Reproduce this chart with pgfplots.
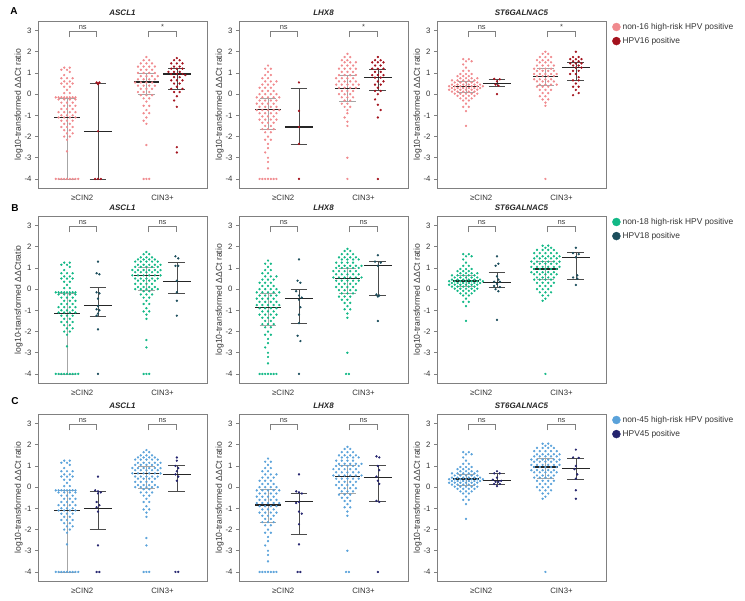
\documentclass[border=0pt]{standalone}
\usepackage{fontspec}
\setmainfont{Liberation Sans}
\usepackage{pgfplots}
\usepackage{pgfplotstable}
\pgfplotsset{compat=1.18}

\definecolor{rA}{HTML}{F08A8E}
\definecolor{rAd}{HTML}{A3111C}
\definecolor{gB}{HTML}{12B886}
\definecolor{gBd}{HTML}{1B4D5C}
\definecolor{bC}{HTML}{5AA2DA}
\definecolor{bCd}{HTML}{24246E}

% light groups (d = horizontal slot in the swarm, y = value)
\pgfplotstableread[row sep=\\]{d y\\
-1 1.25\\ 1 1.25\\ -2 1.15\\ 0 1.15\\ 1 1.05\\ -1 0.9\\
-2 0.75\\ 0 0.75\\ 2 0.75\\ -1 0.6\\ 1 0.6\\ -2 0.5\\ 0 0.5\\ 2 0.5\\
-1 0.35\\ 1 0.35\\ 0 0.2\\ -1 0.05\\ 1 0.05\\
-4 -0.15\\ -3 -0.15\\ -2 -0.15\\ -1 -0.15\\ 0 -0.15\\ 1 -0.15\\ 2 -0.15\\ 3 -0.15\\
-3 -0.25\\ -1 -0.25\\ 1 -0.25\\ 3 -0.25\\
-2 -0.4\\ 0 -0.4\\ 2 -0.4\\ -1 -0.55\\ 1 -0.55\\ 3 -0.55\\
-2 -0.7\\ 0 -0.7\\ 2 -0.7\\ -3 -0.85\\ -1 -0.85\\ 1 -0.85\\ 3 -0.85\\
-2 -1.0\\ 0 -1.0\\ 2 -1.0\\ -3 -1.1\\ -1 -1.1\\ 1 -1.1\\ 3 -1.1\\
-2 -1.25\\ 0 -1.25\\ 2 -1.25\\ -1 -1.4\\ 1 -1.4\\
-2 -1.55\\ 0 -1.55\\ 2 -1.55\\ -1 -1.7\\ 1 -1.7\\ 0 -1.85\\ 2 -1.85\\
-1 -2.0\\ 1 -2.0\\ 0 -2.15\\ 0 -2.7\\
-4 -4\\ -3 -4\\ -2 -4\\ -1 -4\\ 0 -4\\ 1 -4\\ 2 -4\\ 3 -4\\ 4 -4\\
}\asclLo
\pgfplotstableread[row sep=\\]{d y\\
0 1.75\\ -1 1.6\\ 1 1.6\\ -2 1.45\\ 0 1.45\\ 2 1.45\\
-3 1.3\\ -1 1.3\\ 1 1.3\\ 3 1.3\\ -2 1.15\\ 0 1.15\\ 2 1.15\\
-3 1.0\\ -1 1.0\\ 1 1.0\\ 3 1.0\\ -2 0.85\\ 0 0.85\\ 2 0.85\\ 4 0.85\\
-3 0.7\\ -1 0.7\\ 1 0.7\\ 3 0.7\\ -4 0.55\\ -2 0.55\\ 0 0.55\\ 2 0.55\\
-3 0.4\\ -1 0.4\\ 1 0.4\\ 3 0.4\\ -2 0.25\\ 0 0.25\\ 2 0.25\\
-3 0.1\\ -1 0.1\\ 1 0.1\\ -2 -0.05\\ 0 -0.05\\ 2 -0.05\\
-1 -0.2\\ 1 -0.2\\ 0 -0.35\\ -1 -0.55\\ 1 -0.55\\ 0 -0.75\\
-1 -0.9\\ 1 -0.9\\ 0 -1.1\\ -1 -1.25\\ 0 -1.4\\ 0 -2.4\\
-1 -4\\ 0 -4\\ 1 -4\\
}\asclHiA
\pgfplotstableread[row sep=\\]{d y\\
0 1.75\\ -1 1.65\\ 1 1.65\\ -2 1.5\\ 0 1.5\\ 2 1.5\\
-3 1.4\\ -1 1.4\\ 1 1.4\\ 3 1.4\\ -4 1.3\\ -2 1.3\\ 0 1.3\\ 2 1.3\\ 4 1.3\\
-3 1.15\\ -1 1.15\\ 1 1.15\\ 3 1.15\\ 5 1.15\\
-4 1.05\\ -2 1.05\\ 0 1.05\\ 2 1.05\\ 4 1.05\\
-5 0.9\\ -3 0.9\\ -1 0.9\\ 1 0.9\\ 3 0.9\\ 5 0.9\\
-4 0.8\\ -2 0.8\\ 0 0.8\\ 2 0.8\\ 4 0.8\\
-5 0.65\\ -3 0.65\\ -1 0.65\\ 1 0.65\\ 3 0.65\\ 5 0.65\\
-4 0.5\\ -2 0.5\\ 0 0.5\\ 2 0.5\\ 4 0.5\\
-3 0.4\\ -1 0.4\\ 1 0.4\\ 3 0.4\\ -4 0.25\\ -2 0.25\\ 0 0.25\\ 2 0.25\\
-3 0.1\\ -1 0.1\\ 1 0.1\\ 3 0.1\\ -4 0.0\\ -2 0.0\\ 0 0.0\\ 2 0.0\\ 4 0.0\\
-1 -0.1\\ 1 -0.1\\ -2 -0.25\\ 0 -0.25\\ 2 -0.25\\ -1 -0.4\\ 1 -0.4\\
0 -0.55\\ -1 -0.7\\ 1 -0.7\\ 0 -0.9\\ -1 -1.05\\ 1 -1.05\\ 0 -1.2\\ 0 -1.4\\
0 -2.4\\ 0 -2.75\\ -1 -4\\ 0 -4\\ 1 -4\\
}\asclHiBC
\pgfplotstableread[row sep=\\]{d y\\
0 1.35\\ -1 1.2\\ 1 1.2\\ 0 1.05\\ -1 0.9\\ 1 0.9\\ -2 0.75\\ 0 0.75\\
-1 0.6\\ 1 0.6\\ 3 0.6\\ -2 0.45\\ 0 0.45\\ 2 0.45\\ -3 0.3\\ -1 0.3\\ 1 0.3\\
-2 0.15\\ 0 0.15\\ 2 0.15\\ -3 0.0\\ -1 0.0\\ 1 0.0\\ 3 0.0\\
-4 -0.15\\ -2 -0.15\\ 0 -0.15\\ 2 -0.15\\ 4 -0.15\\
-3 -0.3\\ -1 -0.3\\ 1 -0.3\\ 3 -0.3\\ -4 -0.45\\ -2 -0.45\\ 0 -0.45\\ 2 -0.45\\
-3 -0.6\\ -1 -0.6\\ 1 -0.6\\ 3 -0.6\\ -4 -0.75\\ -2 -0.75\\ 0 -0.75\\ 2 -0.75\\ 4 -0.75\\
-3 -0.9\\ -1 -0.9\\ 1 -0.9\\ 3 -0.9\\ -2 -1.05\\ 0 -1.05\\ 2 -1.05\\
-3 -1.2\\ -1 -1.2\\ 1 -1.2\\ 3 -1.2\\ -2 -1.35\\ 0 -1.35\\ 2 -1.35\\
-1 -1.5\\ 1 -1.5\\ -2 -1.65\\ 0 -1.65\\ 2 -1.65\\ -1 -1.8\\ 1 -1.8\\
0 -2.0\\ -1 -2.15\\ 1 -2.15\\ 0 -2.35\\ 0 -2.55\\ -1 -2.75\\ 0 -3.0\\ 0 -3.2\\ 0 -3.5\\
-3 -4\\ -2 -4\\ -1 -4\\ 0 -4\\ 1 -4\\ 2 -4\\ 3 -4\\
}\lhxLo
\pgfplotstableread[row sep=\\]{d y\\
0 1.9\\ -1 1.75\\ 1 1.75\\ -2 1.6\\ 0 1.6\\ -1 1.5\\ 1 1.5\\ 3 1.5\\
-2 1.35\\ 0 1.35\\ 2 1.35\\ -3 1.2\\ -1 1.2\\ 1 1.2\\ 3 1.2\\ -2 1.05\\ 0 1.05\\ 2 1.05\\
-3 0.9\\ -1 0.9\\ 1 0.9\\ 3 0.9\\ -4 0.75\\ -2 0.75\\ 0 0.75\\ 2 0.75\\
-3 0.6\\ -1 0.6\\ 1 0.6\\ 3 0.6\\ -4 0.45\\ -2 0.45\\ 0 0.45\\ 2 0.45\\ 4 0.45\\
-3 0.3\\ -1 0.3\\ 1 0.3\\ 3 0.3\\ -2 0.15\\ 0 0.15\\ 2 0.15\\ -3 0.0\\ -1 0.0\\ 1 0.0\\
-2 -0.15\\ 0 -0.15\\ 2 -0.15\\ -1 -0.3\\ 1 -0.3\\ -2 -0.45\\ 0 -0.45\\ -1 -0.6\\ 1 -0.6\\
0 -0.75\\ 0 -0.9\\ -1 -1.1\\ 0 -1.3\\ 0 -1.5\\ 0 -3.0\\ 0 -4\\
}\lhxHiA
\pgfplotstableread[row sep=\\]{d y\\
0 1.9\\ -1 1.8\\ 1 1.8\\ -2 1.65\\ 0 1.65\\ 2 1.65\\ -3 1.5\\ -1 1.5\\ 1 1.5\\ 3 1.5\\
-2 1.4\\ 0 1.4\\ 2 1.4\\ 4 1.4\\ -4 1.25\\ -2 1.25\\ 0 1.25\\ 2 1.25\\
-3 1.1\\ -1 1.1\\ 1 1.1\\ 3 1.1\\ 5 1.1\\ -4 1.0\\ -2 1.0\\ 0 1.0\\ 2 1.0\\ 4 1.0\\
-5 0.85\\ -3 0.85\\ -1 0.85\\ 1 0.85\\ 3 0.85\\ -4 0.7\\ -2 0.7\\ 0 0.7\\ 2 0.7\\ 4 0.7\\
-5 0.55\\ -3 0.55\\ -1 0.55\\ 1 0.55\\ 3 0.55\\ 5 0.55\\ -4 0.4\\ -2 0.4\\ 0 0.4\\ 2 0.4\\ 4 0.4\\
-3 0.25\\ -1 0.25\\ 1 0.25\\ 3 0.25\\ -4 0.1\\ -2 0.1\\ 0 0.1\\ 2 0.1\\
-3 -0.05\\ -1 -0.05\\ 1 -0.05\\ 3 -0.05\\ -2 -0.2\\ 0 -0.2\\ 2 -0.2\\
-3 -0.35\\ -1 -0.35\\ 1 -0.35\\ -2 -0.5\\ 0 -0.5\\ -1 -0.65\\ 1 -0.65\\ 0 -0.8\\
-1 -0.95\\ 1 -0.95\\ 0 -1.15\\ 0 -1.35\\ 0 -3.0\\ -0.5 -4\\ 0.5 -4\\
}\lhxHiBC
\pgfplotstableread[row sep=\\]{d y\\
-1 1.65\\ 1 1.65\\ 0 1.55\\ 2 1.55\\ -1 1.4\\ 0 1.25\\ -1 1.1\\ 1 1.1\\
-2 0.95\\ 0 0.95\\ 2 0.95\\ -3 0.85\\ -1 0.85\\ 1 0.85\\ -2 0.75\\ 0 0.75\\ 2 0.75\\ 4 0.75\\
-5 0.65\\ -3 0.65\\ -1 0.65\\ 1 0.65\\ 3 0.65\\ -4 0.55\\ -2 0.55\\ 0 0.55\\ 2 0.55\\ 4 0.55\\
-5 0.45\\ -3 0.45\\ -1 0.45\\ 1 0.45\\ 3 0.45\\ 5 0.45\\
-6 0.37\\ -4 0.37\\ -2 0.37\\ 0 0.37\\ 2 0.37\\ 4 0.37\\ 6 0.37\\
-5 0.29\\ -3 0.29\\ -1 0.29\\ 1 0.29\\ 3 0.29\\ 5 0.29\\
-6 0.21\\ -4 0.21\\ -2 0.21\\ 0 0.21\\ 2 0.21\\ 4 0.21\\
-5 0.12\\ -3 0.12\\ -1 0.12\\ 1 0.12\\ 3 0.12\\ -4 0.02\\ -2 0.02\\ 0 0.02\\ 2 0.02\\ 4 0.02\\
-3 -0.08\\ -1 -0.08\\ 1 -0.08\\ 3 -0.08\\ -2 -0.2\\ 0 -0.2\\ 2 -0.2\\ -1 -0.3\\ 1 -0.3\\
0 -0.45\\ -1 -0.6\\ 1 -0.6\\ 0 -0.8\\ 0 -1.5\\
}\stLo
\pgfplotstableread[row sep=\\]{d y\\
0 2.0\\ -1 1.9\\ 1 1.9\\ -2 1.75\\ 0 1.75\\ 2 1.75\\ -3 1.6\\ -1 1.6\\ 1 1.6\\
-2 1.5\\ 0 1.5\\ 2 1.5\\ -3 1.35\\ -1 1.35\\ 1 1.35\\ 3 1.35\\ -4 1.2\\ -2 1.2\\ 0 1.2\\ 2 1.2\\
-3 1.1\\ -1 1.1\\ 1 1.1\\ 3 1.1\\ -4 0.95\\ -2 0.95\\ 0 0.95\\ 2 0.95\\ 4 0.95\\
-3 0.85\\ -1 0.85\\ 1 0.85\\ 3 0.85\\ -4 0.7\\ -2 0.7\\ 0 0.7\\ 2 0.7\\
-3 0.6\\ -1 0.6\\ 1 0.6\\ 3 0.6\\ -2 0.45\\ 0 0.45\\ 2 0.45\\ 4 0.45\\
-3 0.35\\ -1 0.35\\ 1 0.35\\ -2 0.2\\ 0 0.2\\ 2 0.2\\ -1 0.05\\ 1 0.05\\
-2 -0.1\\ 0 -0.1\\ -1 -0.25\\ 1 -0.25\\ 0 -0.4\\ 0 -0.55\\ 0 -4\\
}\stHiA
\pgfplotstableread[row sep=\\]{d y\\
-1 2.05\\ 1 2.05\\ 0 1.95\\ 2 1.95\\ -3 1.85\\ -1 1.85\\ 1 1.85\\ 3 1.85\\
-4 1.7\\ -2 1.7\\ 0 1.7\\ 2 1.7\\ 4 1.7\\ -3 1.55\\ -1 1.55\\ 1 1.55\\ 3 1.55\\ 5 1.55\\
-4 1.45\\ -2 1.45\\ 0 1.45\\ 2 1.45\\ 4 1.45\\ -5 1.3\\ -3 1.3\\ -1 1.3\\ 1 1.3\\ 3 1.3\\ 5 1.3\\
-4 1.2\\ -2 1.2\\ 0 1.2\\ 2 1.2\\ 4 1.2\\ -5 1.05\\ -3 1.05\\ -1 1.05\\ 1 1.05\\ 3 1.05\\ 5 1.05\\
-4 0.95\\ -2 0.95\\ 0 0.95\\ 2 0.95\\ 4 0.95\\ -5 0.8\\ -3 0.8\\ -1 0.8\\ 1 0.8\\ 3 0.8\\
-4 0.7\\ -2 0.7\\ 0 0.7\\ 2 0.7\\ 4 0.7\\ -3 0.55\\ -1 0.55\\ 1 0.55\\ 3 0.55\\
-4 0.45\\ -2 0.45\\ 0 0.45\\ 2 0.45\\ -3 0.3\\ -1 0.3\\ 1 0.3\\ 3 0.3\\
-2 0.15\\ 0 0.15\\ 2 0.15\\ -3 0.0\\ -1 0.0\\ 1 0.0\\ -2 -0.15\\ 0 -0.15\\ 2 -0.15\\
-1 -0.3\\ 1 -0.3\\ 0 -0.45\\ -1 -0.55\\ 0 -4\\
}\stHiBC

% dark groups, one table each
\pgfplotstableread[row sep=\\]{d y\\ -0.5 0.55\\ 0.5 0.55\\ 0 0.47\\ 0 -1.75\\ -1 -4\\ 0 -4\\ 1 -4\\}\aAsLo
\pgfplotstableread[row sep=\\]{d y\\ 0 1.7\\ -1 1.6\\ 1 1.6\\ -2 1.45\\ 0 1.45\\ 2 1.45\\ -1 1.3\\ 1 1.3\\ -2 1.2\\ 0 1.2\\ 2 1.2\\ -3 1.05\\ -1 1.05\\ 1 1.05\\ -2 0.95\\ 0 0.95\\ 2 0.95\\ 3 0.9\\ -1 0.8\\ 1 0.8\\ -2 0.65\\ 0 0.65\\ 2 0.65\\ -1 0.5\\ 1 0.5\\ 0 0.35\\ -2 0.25\\ 2 0.25\\ -1 0.1\\ 1 0.1\\ 0 -0.1\\ -1 -0.3\\ 0 -0.6\\ 0 -2.5\\ 0 -2.75\\}\aAsHi
\pgfplotstableread[row sep=\\]{d y\\ 0 1.3\\ -0.5 0.75\\ 0.5 0.7\\ -0.5 -0.15\\ 0.5 -0.2\\ 0 -0.45\\ 0 -0.8\\ -0.5 -0.95\\ 0.5 -1.0\\ 0 -1.15\\ -0.5 -1.25\\ 0 -1.9\\ 0 -4\\}\bAsLo
\pgfplotstableread[row sep=\\]{d y\\ -0.5 1.55\\ 0.5 1.45\\ -0.5 1.1\\ 0.5 1.1\\ 0 0.4\\ 0 -0.15\\ 0 -0.55\\ 0 -1.25\\}\bAsHi
\pgfplotstableread[row sep=\\]{d y\\ 0 0.5\\ -1 -0.15\\ 0 -0.2\\ 1 -0.25\\ 0 -0.3\\ -0.5 -0.7\\ 0.5 -0.85\\ -0.5 -0.95\\ 0 -1.15\\ 0 -2.75\\ -0.5 -4\\ 0.5 -4\\}\cAsLo
\pgfplotstableread[row sep=\\]{d y\\ 0 1.4\\ 0 1.25\\ -0.5 1.0\\ 0.5 0.9\\ 0 0.75\\ -0.5 0.6\\ 0.5 0.5\\ 0 0.3\\ -0.5 -4\\ 0.5 -4\\}\cAsHi
\pgfplotstableread[row sep=\\]{d y\\ 0 0.55\\ 0 -0.79\\ 0 -1.55\\ 0 -2.35\\ 0 -4\\}\aLhLo
\pgfplotstableread[row sep=\\]{d y\\ 0 1.75\\ -1 1.6\\ 1 1.6\\ -2 1.5\\ 0 1.5\\ 2 1.5\\ -1 1.35\\ 1 1.35\\ -2 1.2\\ 0 1.2\\ 2 1.2\\ -1 1.05\\ 1 1.05\\ -2 0.9\\ 0 0.9\\ 2 0.9\\ -1 0.78\\ 1 0.78\\ 0 0.6\\ 2 0.6\\ -1 0.45\\ 1 0.45\\ 0 0.3\\ -1 0.15\\ 1 0.15\\ 0 0.0\\ -1 -0.25\\ 0 -0.5\\ 1 -0.75\\ 0 -1.1\\ 0 -4\\}\aLhHi
\pgfplotstableread[row sep=\\]{d y\\ 0 1.4\\ -0.5 0.4\\ 0.5 0.3\\ -1 -0.1\\ 0 -0.3\\ 1 -0.4\\ 0 -0.5\\ 0.5 -0.85\\ 0 -1.2\\ 0 -1.6\\ -0.5 -2.2\\ 0.5 -2.45\\ 0 -4\\}\bLhLo
\pgfplotstableread[row sep=\\]{d y\\ 0 1.6\\ -1 1.3\\ 1 1.25\\ 0 1.1\\ -0.5 -0.25\\ 0.5 -0.3\\ 0 -0.35\\ 0 -1.5\\}\bLhHi
\pgfplotstableread[row sep=\\]{d y\\ 0 0.6\\ -1 -0.2\\ 0 -0.25\\ 1 -0.3\\ 0 -0.7\\ -1 -0.75\\ 0 -1.15\\ 1 -1.25\\ 0 -1.75\\ 0 -2.7\\ -0.5 -4\\ 0.5 -4\\}\cLhLo
\pgfplotstableread[row sep=\\]{d y\\ -0.5 1.45\\ 0.5 1.4\\ 0 1.0\\ 0.5 0.8\\ -0.5 0.5\\ 0 0.3\\ 0.5 0.15\\ -0.5 -0.65\\ 0.5 -0.7\\ 0 -4\\}\cLhHi
\pgfplotstableread[row sep=\\]{d y\\ -1 0.72\\ 1 0.7\\ 0 0.6\\ -0.5 0.45\\ 0.5 0.4\\ 0 0.0\\}\aStLo
\pgfplotstableread[row sep=\\]{d y\\ 0 2.0\\ -1 1.75\\ 1 1.75\\ -2 1.65\\ 0 1.65\\ 2 1.65\\ -1 1.55\\ 1 1.55\\ -2 1.45\\ 0 1.45\\ 2 1.45\\ -1 1.35\\ 1 1.35\\ 0 1.25\\ 2 1.25\\ -1 1.1\\ 1 1.1\\ -2 0.95\\ 0 0.95\\ 1 0.8\\ -1 0.65\\ 1 0.65\\ 0 0.5\\ -1 0.35\\ 1 0.35\\ 0 0.2\\ 1 0.05\\ -1 -0.05\\}\aStHi
\pgfplotstableread[row sep=\\]{d y\\ 0 1.55\\ 0.5 1.2\\ -0.5 1.1\\ 0 0.6\\ 0.5 0.45\\ -1 0.35\\ 1 0.35\\ 0 0.25\\ -1 0.15\\ 1 0.1\\ -0.5 0.0\\ 0.5 -0.1\\ 0 -1.45\\}\bStLo
\pgfplotstableread[row sep=\\]{d y\\ 0 1.95\\ -1 1.7\\ 1 1.65\\ 0 1.5\\ 0.5 0.65\\ -1 0.55\\ 0.5 0.5\\ 0 0.2\\}\bStHi
\pgfplotstableread[row sep=\\]{d y\\ 0 0.75\\ -1 0.65\\ 1 0.65\\ 0 0.45\\ -1.5 0.35\\ 1.5 0.3\\ -0.5 0.25\\ 0.5 0.25\\ -1 0.15\\ 1 0.15\\ 0 0.05\\}\cStLo
\pgfplotstableread[row sep=\\]{d y\\ 0 1.77\\ -1 1.4\\ 1 1.38\\ 0 1.0\\ -0.5 0.85\\ 0.5 0.6\\ 0 0.4\\ 0 -0.15\\ 0 -0.55\\}\cStHi

\newcommand\swarm[3]{%
  \addplot[only marks, mark=*, mark size=0.95pt, color=#2, forget plot]
    table[x expr={#1+0.1*\thisrow{d}}, y=y] {#3};}
% centre, lower quartile, median, upper quartile, median half-width, bar colour
\newcommand\stat[6]{%
  \pgfmathsetmacro\sa{#1-0.3}\pgfmathsetmacro\sb{#1+0.3}%
  \pgfmathsetmacro\ma{#1-#5}\pgfmathsetmacro\mb{#1+#5}%
  \addplot[#6, line width=0.7pt, forget plot] coordinates {(#1,#2) (#1,#4)};
  \addplot[#6, line width=0.7pt, forget plot] coordinates {(\sa,#2) (\sb,#2)};
  \addplot[#6, line width=0.7pt, forget plot] coordinates {(\sa,#4) (\sb,#4)};
  \addplot[black!85, line width=1.2pt, forget plot] coordinates {(\ma,#3) (\mb,#3)};}
\newcommand\brk[2]{%
  \addplot[gray, line width=0.5pt, forget plot] coordinates {(1.1,2.68) (1.1,2.95) (2.08,2.95) (2.08,2.68)};
  \addplot[gray, line width=0.5pt, forget plot] coordinates {(3.93,2.68) (3.93,2.95) (4.92,2.95) (4.92,2.68)};
  \node[font=\fontsize{7.5}{8}\selectfont, text=black!75, anchor=base] at (axis cs:1.59,3.06) {#1};
  \node[font=\fontsize{7.5}{8}\selectfont, text=black!75, anchor=base] at (axis cs:4.42,3.06) {#2};}

\pgfplotsset{
  panel/.style={
    anchor=north west, scale only axis, width=169pt, height=167.5pt,
    xmin=0, xmax=6, ymin=-4.45, ymax=3.45,
    axis line style={gray, line width=0.6pt},
    xtick={1.57,4.42}, xticklabels={≥CIN2,CIN3+}, xtick style={draw=none},
    ytick={-4,-3,-2,-1,0,1,2,3}, ytick pos=left,
    tick align=outside, major tick length=3pt,
    ytick style={gray, line width=0.6pt},
    /pgf/number format/assume math mode=true,
    ticklabel style={font=\fontsize{7.8}{8}\selectfont, text=black!80},
    ylabel={log10-transformed ΔΔCt ratio},
    ylabel style={font=\fontsize{8.6}{9}\selectfont, text=black!80, yshift=-5pt},
    title style={font=\bfseries\itshape\fontsize{8}{9}\selectfont, text=black!85, yshift=-4.5pt},
    clip=false},
  leg/.style={legend style={at={(1,1)}, anchor=north west, xshift=6pt, draw=none, fill=none,
    inner sep=0pt, row sep=2.5pt, font=\fontsize{8.4}{9}\selectfont, text=black!80},
    legend cell align=left}
}

\begin{document}
\begin{tikzpicture}
\useasboundingbox (0,0) rectangle (745pt,-601pt);
\node[font=\bfseries\fontsize{10}{12}\selectfont] at (14pt,-11.5pt) {A};
\node[font=\bfseries\fontsize{10}{12}\selectfont] at (15pt,-208pt) {B};
\node[font=\bfseries\fontsize{10}{12}\selectfont] at (15pt,-401pt) {C};

% ---- row A : HPV16 ----
\begin{axis}[panel, at={(38pt,-21pt)}, title={ASCL1}]
\swarm{1.03}{rA}{\asclLo} \swarm{2.13}{rAd}{\aAsLo}
\swarm{3.85}{rA}{\asclHiA} \swarm{4.93}{rAd}{\aAsHi}
\stat{1.03}{-4}{-1.1}{-0.2}{0.45}{gray!70}
\stat{2.13}{-4}{-1.75}{0.5}{0.5}{gray!60!black}
\stat{3.85}{0}{0.57}{1.0}{0.45}{gray!70}
\stat{4.93}{0.24}{0.95}{1.2}{0.5}{gray!60!black}
\brk{ns}{*}
\end{axis}
\begin{axis}[panel, at={(239pt,-21pt)}, title={LHX8}]
\swarm{1.03}{rA}{\lhxLo} \swarm{2.13}{rAd}{\aLhLo}
\swarm{3.85}{rA}{\lhxHiA} \swarm{4.93}{rAd}{\aLhHi}
\stat{1.03}{-1.66}{-0.71}{-0.19}{0.45}{gray!70}
\stat{2.13}{-2.37}{-1.55}{0.28}{0.5}{gray!60!black}
\stat{3.85}{-0.35}{0.25}{0.9}{0.45}{gray!70}
\stat{4.93}{0.16}{0.8}{1.18}{0.5}{gray!60!black}
\brk{ns}{*}
\end{axis}
\begin{axis}[panel, leg, at={(437pt,-21pt)}, title={ST6GALNAC5}]
\addlegendimage{legend image code/.code={\fill[rA] (4pt,0pt) circle (4pt);}}
\addlegendentry{non-16 high-risk HPV positive}
\addlegendimage{legend image code/.code={\fill[rAd] (4pt,0pt) circle (4pt);}}
\addlegendentry{HPV16 positive}
\swarm{1.03}{rA}{\stLo} \swarm{2.13}{rAd}{\aStLo}
\swarm{3.85}{rA}{\stHiA} \swarm{4.93}{rAd}{\aStHi}
\stat{1.03}{0.1}{0.35}{0.6}{0.45}{gray!70}
\stat{2.13}{0.35}{0.52}{0.7}{0.5}{gray!60!black}
\stat{3.85}{0.4}{0.82}{1.2}{0.45}{gray!70}
\stat{4.93}{0.65}{1.25}{1.5}{0.5}{gray!60!black}
\brk{ns}{*}
\end{axis}

% ---- row B : HPV18 ----
\begin{axis}[panel, at={(38pt,-216pt)}, title={ASCL1}, ylabel={log10-transformed ΔΔCtratio}]
\swarm{1.03}{gB}{\asclLo} \swarm{2.13}{gBd}{\bAsLo}
\swarm{3.85}{gB}{\asclHiBC} \swarm{4.93}{gBd}{\bAsHi}
\stat{1.03}{-4}{-1.15}{-0.2}{0.45}{gray!70}
\stat{2.13}{-1.27}{-0.77}{0.07}{0.5}{gray!60!black}
\stat{3.85}{-0.05}{0.65}{1.05}{0.45}{gray!70}
\stat{4.93}{-0.2}{0.35}{1.28}{0.5}{gray!60!black}
\brk{ns}{ns}
\end{axis}
\begin{axis}[panel, at={(239pt,-216pt)}, title={LHX8}]
\swarm{1.03}{gB}{\lhxLo} \swarm{2.13}{gBd}{\bLhLo}
\swarm{3.85}{gB}{\lhxHiBC} \swarm{4.93}{gBd}{\bLhHi}
\stat{1.03}{-1.7}{-0.87}{-0.2}{0.45}{gray!70}
\stat{2.13}{-1.6}{-0.45}{0.0}{0.5}{gray!60!black}
\stat{3.85}{-0.2}{0.5}{1.0}{0.45}{gray!70}
\stat{4.93}{-0.3}{1.12}{1.3}{0.5}{gray!60!black}
\brk{ns}{ns}
\end{axis}
\begin{axis}[panel, leg, at={(437pt,-216pt)}, title={ST6GALNAC5}]
\addlegendimage{legend image code/.code={\fill[gB] (4pt,0pt) circle (4pt);}}
\addlegendentry{non-18 high-risk HPV positive}
\addlegendimage{legend image code/.code={\fill[gBd] (4pt,0pt) circle (4pt);}}
\addlegendentry{HPV18 positive}
\swarm{1.03}{gB}{\stLo} \swarm{2.13}{gBd}{\bStLo}
\swarm{3.85}{gB}{\stHiBC} \swarm{4.93}{gBd}{\bStHi}
\stat{1.03}{0.15}{0.38}{0.65}{0.45}{gray!70}
\stat{2.13}{0.1}{0.33}{0.8}{0.5}{gray!60!black}
\stat{3.85}{0.45}{0.95}{1.3}{0.45}{gray!70}
\stat{4.93}{0.48}{1.48}{1.72}{0.5}{gray!60!black}
\brk{ns}{ns}
\end{axis}

% ---- row C : HPV45 ----
\begin{axis}[panel, at={(38pt,-414pt)}, title={ASCL1}]
\swarm{1.03}{bC}{\asclLo} \swarm{2.13}{bCd}{\cAsLo}
\swarm{3.85}{bC}{\asclHiBC} \swarm{4.93}{bCd}{\cAsHi}
\stat{1.03}{-4}{-1.12}{-0.15}{0.45}{gray!70}
\stat{2.13}{-2.0}{-1.0}{-0.18}{0.5}{gray!60!black}
\stat{3.85}{-0.05}{0.65}{1.0}{0.45}{gray!70}
\stat{4.93}{-0.18}{0.6}{1.05}{0.5}{gray!60!black}
\brk{ns}{ns}
\end{axis}
\begin{axis}[panel, at={(239pt,-414pt)}, title={LHX8}]
\swarm{1.03}{bC}{\lhxLo} \swarm{2.13}{bCd}{\cLhLo}
\swarm{3.85}{bC}{\lhxHiBC} \swarm{4.93}{bCd}{\cLhHi}
\stat{1.03}{-1.66}{-0.84}{-0.1}{0.45}{gray!70}
\stat{2.13}{-2.23}{-0.68}{-0.29}{0.5}{gray!60!black}
\stat{3.85}{-0.29}{0.5}{1.05}{0.45}{gray!70}
\stat{4.93}{-0.68}{0.46}{1.05}{0.5}{gray!60!black}
\brk{ns}{ns}
\end{axis}
\begin{axis}[panel, leg, at={(437pt,-414pt)}, title={ST6GALNAC5}]
\addlegendimage{legend image code/.code={\fill[bC] (4pt,0pt) circle (4pt);}}
\addlegendentry{non-45 high-risk HPV positive}
\addlegendimage{legend image code/.code={\fill[bCd] (4pt,0pt) circle (4pt);}}
\addlegendentry{HPV45 positive}
\swarm{1.03}{bC}{\stLo} \swarm{2.13}{bCd}{\cStLo}
\swarm{3.85}{bC}{\stHiBC} \swarm{4.93}{bCd}{\cStHi}
\stat{1.03}{0.1}{0.38}{0.62}{0.45}{gray!70}
\stat{2.13}{0.12}{0.3}{0.67}{0.5}{gray!60!black}
\stat{3.85}{0.43}{0.95}{1.38}{0.45}{gray!70}
\stat{4.93}{0.38}{0.87}{1.38}{0.5}{gray!60!black}
\brk{ns}{ns}
\end{axis}
\end{tikzpicture}
\end{document}
